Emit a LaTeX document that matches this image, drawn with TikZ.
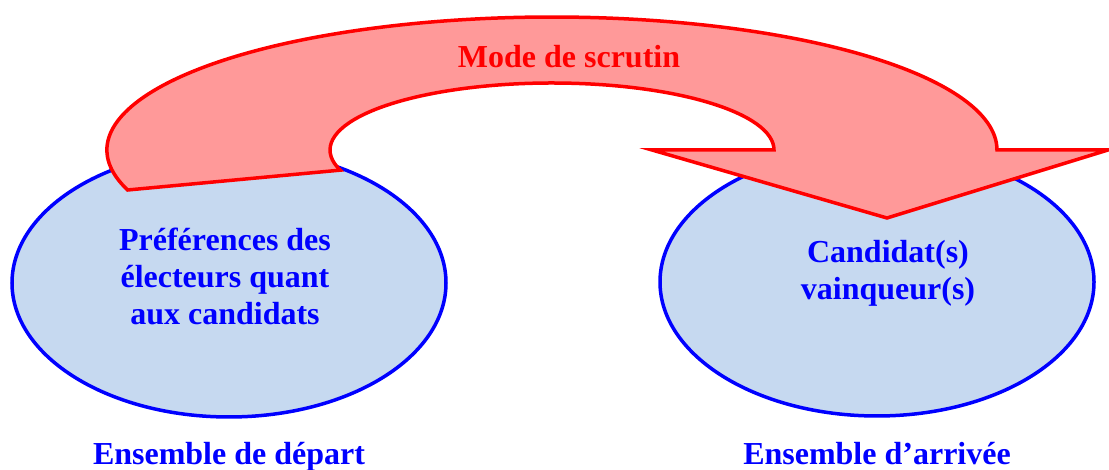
\documentclass[tikz,border=0pt]{standalone}
\usepackage{fontspec}
\setmainfont{Liberation Serif}
\usepackage{xcolor}
\usetikzlibrary{shapes}
\definecolor{setfill}{RGB}{198,217,240}
\definecolor{arrowfill}{RGB}{255,153,153}
\tikzset{setellipse/.style={ellipse,draw=blue,line width=3.5pt,fill=setfill,
   minimum width=434pt,minimum height=268pt,inner sep=0pt},
 settext/.style={align=center,text=blue,font=\bfseries\fontsize{32}{37}\selectfont},
 setlabel/.style={anchor=base,text=blue,font=\bfseries\fontsize{32}{37}\selectfont},
 bigarrow/.style={draw=red,line width=3.5pt,fill=arrowfill},
 modelabel/.style={text=red,font=\bfseries\fontsize{32}{37}\selectfont},
 }

\begin{document}
\begin{tikzpicture}[x=1pt,y=1pt]
        \useasboundingbox (0,0) rectangle (1109,470);
        \node[setellipse] (depart) at (229,187) {};
        \node[setellipse] (arrivee) at (877,188) {};
        \node[settext] (departtxt) at ([xshift=-4pt,yshift=7pt]depart.center) {Préférences des\\électeurs quant\\aux candidats};
        \node[settext] (arriveetxt) at ([xshift=11pt,yshift=9pt]arrivee.center) {Candidat(s)\\vainqueur(s)};
        \draw[bigarrow] (127.6,280) arc[start angle=197.5,end angle=0,x radius=445pt,y radius=133pt]
            -- (1108,320) -- (887,252) -- (652,320) -- (774,320)
            arc[start angle=0,end angle=197.5,x radius=222pt,y radius=67pt] -- cycle;
        \node[modelabel] (mode) at (569,413) {Mode de scrutin};
        \node[setlabel] (departlbl) at (229,5) {Ensemble de départ};
        \node[setlabel] (arriveelbl) at (877,5) {Ensemble d’arrivée};
    \end{tikzpicture}
\end{document}
